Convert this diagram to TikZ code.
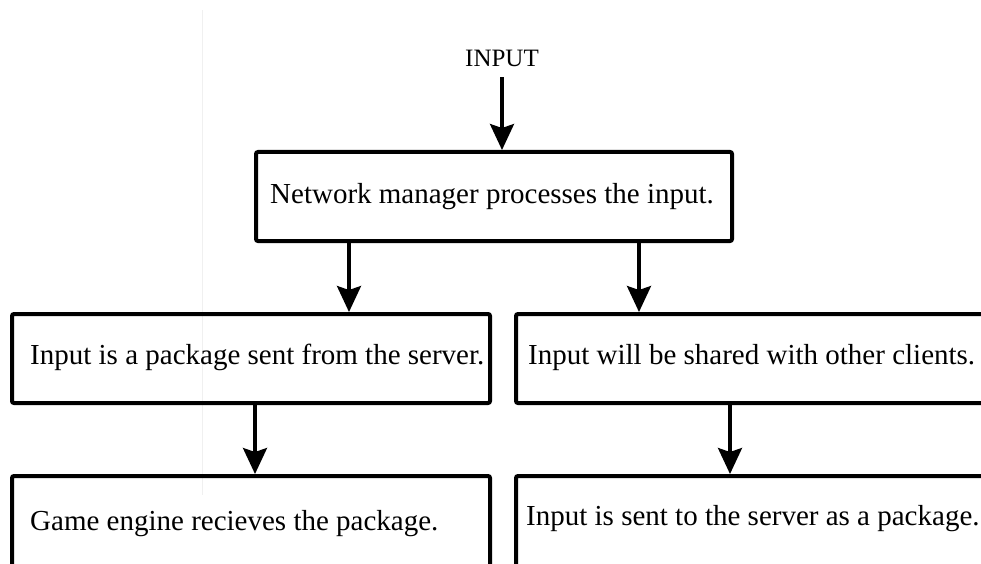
\documentclass[tikz,border=0pt]{standalone}
\usepackage{fontspec}
\setmainfont{Liberation Serif}
\usetikzlibrary{arrows.meta}
\tikzset{
  flowbox/.style={draw, line width=4pt, rounded corners=2pt, inner sep=0pt,
                  anchor=north west},
  boxtext/.style={inner sep=0pt, anchor=base west, font=\fontsize{29}{34}\selectfont},
  arr/.style={line width=3.2pt, -{Stealth[width=24pt,length=26pt,inset=4pt]}},
}
\begin{document}
\begin{tikzpicture}[x=1pt,y=-1pt]
\useasboundingbox (0,0) rectangle (981,564);
\clip (0,0) rectangle (981,564);
% faint page rule behind the chart
\draw[black!6, line width=1pt] (202,10) -- (202,495);

% boxes
\node[flowbox, minimum width=476pt, minimum height=89pt] (net) at (254,150) {};
\node[flowbox, minimum width=478pt, minimum height=89pt] (pkg) at (10,312) {};
\node[flowbox, minimum width=500pt, minimum height=89pt] (share) at (514,312) {};
\node[flowbox, minimum width=478pt, minimum height=150pt] (engine) at (10,474) {};
\node[flowbox, minimum width=500pt, minimum height=150pt] (sent) at (514,474) {};

% texts
\node[inner sep=0pt, anchor=base, font=\fontsize{25}{30}\selectfont] (in) at (502,67) {INPUT};
\node[boxtext] (tnet) at (270,203) {Network manager processes the input.};
\node[boxtext] (tpkg) at (30,364) {Input is a package sent from the server.};
\node[boxtext] (tshare) at (528,364) {Input will be shared with other clients.};
\node[boxtext] (tengine) at (30,530) {Game engine recieves the package.};
\node[boxtext] (tsent) at (526,525) {Input is sent to the server as a package.};

% connectors
\draw[arr, shorten <=10pt] (in.south) -- (in.south |- net.north);
\draw[arr] ([xshift=-145pt]net.south) -- ([xshift=-145pt]net.south |- pkg.north);
\draw[arr] ([xshift=145pt]net.south) -- ([xshift=145pt]net.south |- share.north);
\draw[arr] ([xshift=4pt]pkg.south) -- ([xshift=4pt]pkg.south |- engine.north);
\draw[arr] ([xshift=-36pt]share.south) -- ([xshift=-36pt]share.south |- sent.north);
\end{tikzpicture}
\end{document}
